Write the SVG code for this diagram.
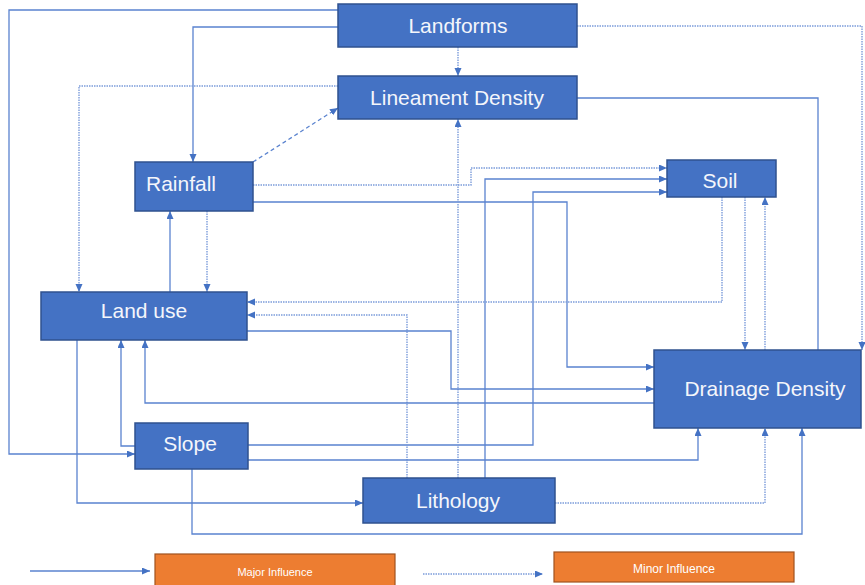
<svg xmlns="http://www.w3.org/2000/svg" width="865" height="585" viewBox="0 0 865 585">
<style>
.node rect{fill:#4472C4;stroke:#2F528F;stroke-width:1.5}
.node text{fill:#F4F6FB;font-family:"Liberation Sans",Arial,sans-serif;font-size:21px;text-anchor:middle}
.leg rect{fill:#ED7D31;stroke:#A0521E;stroke-width:1.2}
.leg text{fill:#FFFFFF;font-family:"Liberation Sans",Arial,sans-serif;font-size:11px;text-anchor:middle}
.s{fill:none;stroke:#5A83CF;stroke-width:1.3}
.d{fill:none;stroke:#7C9CDA;stroke-width:1.4;stroke-dasharray:1.5 1}
.dash{fill:none;stroke:#5A83CF;stroke-width:1.3;stroke-dasharray:4 3}
.a{marker-end:url(#ah)}
</style>
<defs>
<marker id="ah" markerUnits="userSpaceOnUse" markerWidth="9" markerHeight="8" refX="8" refY="3.5" orient="auto">
<path d="M0,0 L8,3.5 L0,7 z" fill="#4472C4"/>
</marker>
</defs>
<rect width="865" height="585" fill="#FFFFFF"/>
<g id="connectors">
<path class="s a" d="M338,10 H9 V454 H135"/>
<path class="s a" d="M338,27 H193 V162"/>
<path class="d a" d="M458,47 V76"/>
<path class="d a" d="M577,26 H862 V350"/>
<path class="s" d="M577,98 H818 V350"/>
<path class="d a" d="M338,86 H79 V292"/>
<path class="dash a" d="M253,162 L338,108"/>
<path class="d a" d="M253,185 H471 V168 H667"/>
<path class="s a" d="M253,202 H567 V367 H654"/>
<path class="s a" d="M485,478 V179 H667"/>
<path class="s a" d="M248,445 H533 V192 H667"/>
<path class="d a" d="M458,478 V119"/>
<path class="d a" d="M722,197 V302 H247"/>
<path class="d a" d="M407,478 V315 H247"/>
<path class="s a" d="M247,331 H451 V389 H654"/>
<path class="s a" d="M654,403 H145 V340"/>
<path class="s a" d="M135,446 H121 V340"/>
<path class="s a" d="M77,340 V503 H363"/>
<path class="s a" d="M192,469 V534 H802 V428"/>
<path class="s a" d="M248,460 H698 V428"/>
<path class="d a" d="M555,503 H765 V428"/>
<path class="d a" d="M745,197 V350"/>
<path class="d a" d="M765,350 V197"/>
<path class="s a" d="M170,292 V211"/>
<path class="d a" d="M207,211 V292"/>
<path class="s a" d="M30,571 H150"/>
<path class="d a" d="M423,574 H543"/>
</g>
<g id="landforms" class="node"><rect x="338" y="4" width="239" height="43"/><text x="458" y="33">Landforms</text></g>
<g id="lineament" class="node"><rect x="338" y="76" width="239" height="43"/><text x="457" y="105">Lineament Density</text></g>
<g id="rainfall" class="node"><rect x="135" y="162" width="118" height="49"/><text x="146" y="191" style="text-anchor:start">Rainfall</text></g>
<g id="soil" class="node"><rect x="667" y="160" width="109" height="37"/><text x="720" y="188">Soil</text></g>
<g id="landuse" class="node"><rect x="41" y="292" width="206" height="48"/><text x="144" y="318">Land use</text></g>
<g id="slope" class="node"><rect x="135" y="423" width="113" height="46"/><text x="190" y="451">Slope</text></g>
<g id="lithology" class="node"><rect x="363" y="478" width="192" height="45"/><text x="458" y="508">Lithology</text></g>
<g id="drainage" class="node"><rect x="654" y="350" width="207" height="78"/><text x="765" y="396">Drainage Density</text></g>
<g id="legend-major" class="leg"><rect x="155" y="554" width="240" height="36"/><text x="275" y="576">Major Influence</text></g>
<g id="legend-minor" class="leg"><rect x="554" y="552" width="240" height="30"/><text x="674" y="573" style="font-size:12px">Minor Influence</text></g>
</svg>
